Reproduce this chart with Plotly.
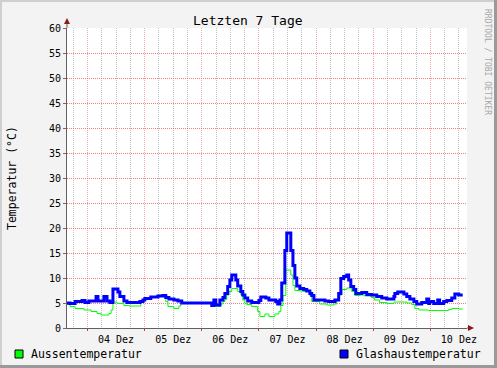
import pandas as pd
import plotly.graph_objects as go

# ---------------- data ----------------
# hours relative to 04 Dez 00:00, values in °C (step series)
glas_hours = [-8.6, -7.3, -5.2, -2.3, -1.0, 0.6, 3.6, 4.4, 6.9, 8.2, 9.4, 10.7, 12.8, 13.6,
              15.3, 16.6, 22.0, 23.3, 24.1, 26.6, 29.6, 31.7, 32.9, 34.2, 36.3, 38.0, 39.6,
              52.2, 53.1, 53.9, 55.6, 56.9, 57.7, 58.9, 59.8, 60.6, 62.3, 63.1, 64.4, 65.2,
              66.1, 67.3, 69.0, 72.0, 72.8, 74.9, 76.2, 79.1, 79.9, 80.8, 81.6, 82.9, 83.7,
              85.4, 86.3, 87.1, 87.9, 89.2, 90.8, 92.1, 93.4, 94.2, 95.1, 99.7, 101.3, 103.9,
              105.5, 106.4, 107.6, 108.9, 109.7, 110.6, 111.8, 112.7, 115.2, 117.3, 119.4,
              121.5, 123.6, 125.7, 128.7, 129.1, 130.3, 132.9, 134.1, 135.4, 137.1, 138.3,
              140.4, 142.5, 143.3, 143.7, 145.4, 147.1, 147.9, 149.6, 150.9, 153.0, 154.3,
              155.9, 157.6]
glas_values = [5.0, 4.9, 5.3, 5.5, 5.1, 5.4, 6.3, 5.4, 6.3, 5.4, 5.1, 7.8, 7.2, 6.3,
               5.4, 5.1, 5.3, 5.6, 5.9, 6.2, 6.4, 6.5, 6.1, 5.8, 5.6, 5.4, 5.0,
               4.5, 5.6, 4.6, 5.6, 6.1, 6.9, 8.3, 9.6, 10.6, 9.6, 8.4, 7.3, 6.6,
               6.0, 5.4, 5.1, 5.5, 6.2, 6.0, 5.6, 5.3, 4.8, 5.6, 9.0, 15.5, 19.0,
               15.5, 12.5, 10.0, 8.4, 7.9, 7.7, 7.4, 6.9, 6.5, 5.6, 5.4, 5.3, 5.6,
               6.9, 9.9, 10.3, 10.6, 9.6, 8.3, 7.7, 6.9, 7.1, 6.7, 6.6,
               6.3, 6.0, 5.8, 6.3, 6.9, 7.2, 6.8, 6.3, 5.8, 5.3, 4.8,
               5.1, 5.8, 4.9, 5.3, 4.9, 5.6, 4.9, 5.3, 5.5, 6.0, 6.8,
               6.6, 6.6]

aussen_hours = [-8.6, -7.3, -5.2, -1.5, 1.5, 4.0, 5.7, 9.0, 9.9, 10.7, 12.4, 15.3, 17.4,
                22.4, 23.7, 25.4, 27.1, 29.6, 31.7, 32.9, 33.8, 36.3, 38.4, 39.2, 52.2,
                56.0, 56.9, 57.7, 58.5, 59.4, 60.6, 63.1, 64.4, 65.2, 66.1, 66.9, 69.0,
                71.5, 72.4, 74.5, 76.2, 78.7, 80.4, 81.2, 82.1, 83.3, 85.4, 86.3, 87.1,
                89.2, 90.8, 93.4, 94.2, 97.5, 100.5, 103.4, 104.7, 105.5, 106.8, 108.9,
                111.0, 112.3, 114.4, 116.4, 119.4, 120.6, 122.7, 125.7, 128.7, 134.1,
                136.2, 137.5, 139.2, 143.3, 151.7, 153.0, 155.9, 157.6]
aussen_values = [4.7, 4.3, 3.9, 3.6, 3.3, 2.9, 2.6, 2.9, 3.6, 5.2, 4.9, 4.5, 4.4,
                 5.3, 5.7, 6.0, 6.3, 6.6, 6.5, 5.3, 4.3, 3.9, 4.4, 5.0, 4.3,
                 4.8, 5.3, 5.7, 6.6, 7.3, 7.9, 7.3, 6.6, 5.6, 4.9, 4.7, 4.3,
                 3.3, 2.3, 2.8, 2.3, 2.8, 3.3, 4.5, 6.5, 11.6, 10.6, 8.5, 7.5,
                 7.4, 7.3, 6.5, 5.3, 4.8, 4.6, 4.8, 5.6, 6.6, 7.7, 8.0,
                 7.3, 6.5, 6.6, 6.4, 6.1, 5.6, 5.1, 4.9, 5.2, 5.0,
                 4.7, 3.9, 3.6, 3.5, 3.7, 3.9, 3.8, 3.8]

y_ticks = list(range(0, 61, 5))

# ---------------- build ----------------
base = pd.Timestamp("2009-12-04 00:00")
t_glas = base + pd.to_timedelta(glas_hours, unit="h")
t_aus = base + pd.to_timedelta(aussen_hours, unit="h")
x_start = base + pd.Timedelta(hours=-8.6)
x_end = x_start + pd.Timedelta(days=7)

MONO = "DejaVu Sans Mono"
W, H = 497, 368
L, R, T, B = 67, 30, 28, 40
PW, PH = W - L - R, H - T - B


def px(x):
    return (x - L) / PW


def py(y):
    return (H - B - y) / PH


fig = go.Figure()
fig.add_trace(go.Scatter(x=t_aus, y=aussen_values, mode="lines", line_shape="hv",
                         line=dict(color="#00FF00", width=1), name="Aussentemperatur"))
fig.add_trace(go.Scatter(x=t_glas, y=glas_values, mode="lines", line_shape="hv",
                         line=dict(color="#0000FF", width=3), name="Glashaustemperatur"))

red_grid = "rgba(240,110,110,0.6)"
red_grid_h = "rgba(240,80,80,0.75)"
grey_grid = "rgba(185,185,185,0.9)"

fig.update_layout(
    width=W, height=H,
    margin=dict(l=L, r=R, t=T, b=B),
    paper_bgcolor="#F3F3F3", plot_bgcolor="#FFFFFF",
    showlegend=False,
    font=dict(family=MONO, size=10, color="#000000"),
    xaxis=dict(type="date", range=[x_start, x_end],
               dtick=86400000, tick0=base, ticklabelmode="period", tickformat="%d Dez",
               ticks="outside", ticklen=2, tickcolor="#C04040",
               showgrid=True, gridcolor=red_grid, griddash="1px,1px", gridwidth=1,
               zeroline=False,
               showline=True, linecolor="#606060", linewidth=1,
               tickfont=dict(family=MONO, size=10),
               minor=dict(dtick=6 * 3600 * 1000, tick0=base, showgrid=True,
                          gridcolor=grey_grid, griddash="1px,1px", gridwidth=1)),
    yaxis=dict(range=[0, 60], tickmode="array", tickvals=y_ticks,
               ticks="outside", ticklen=3, tickcolor="#B05050",
               showgrid=True, gridcolor=red_grid_h, griddash="1px,1px", gridwidth=1,
               zeroline=False, showline=True, linecolor="#606060", linewidth=1,
               tickfont=dict(family=MONO, size=10)),
)

shapes = []
# frame
shapes.append(dict(type="rect", xref="paper", yref="paper", x0=px(0), x1=px(W), y0=py(0), y1=py(2),
                   fillcolor="#CFCFCF", line=dict(width=0), layer="above"))
shapes.append(dict(type="rect", xref="paper", yref="paper", x0=px(0), x1=px(2), y0=py(0), y1=py(H),
                   fillcolor="#CFCFCF", line=dict(width=0), layer="above"))
shapes.append(dict(type="rect", xref="paper", yref="paper", x0=px(W - 3), x1=px(W), y0=py(0), y1=py(H),
                   fillcolor="#9A9A9A", line=dict(width=0), layer="above"))
shapes.append(dict(type="rect", xref="paper", yref="paper", x0=px(0), x1=px(W), y0=py(H - 3), y1=py(H),
                   fillcolor="#9A9A9A", line=dict(width=0), layer="above"))
# axis extensions and arrows
shapes.append(dict(type="line", xref="paper", yref="paper", x0=px(L), x1=px(L), y0=py(T), y1=py(22),
                   line=dict(color="#606060", width=1), layer="above"))
shapes.append(dict(type="line", xref="paper", yref="paper", x0=px(L + PW), x1=px(470), y0=py(T + PH), y1=py(T + PH),
                   line=dict(color="#606060", width=1), layer="above"))
shapes.append(dict(type="path", xref="paper", yref="paper",
                   path=f"M {px(64)},{py(24)} L {px(70)},{py(24)} L {px(67)},{py(18)} Z",
                   fillcolor="#8B1A1A", line=dict(width=0), layer="above"))
shapes.append(dict(type="path", xref="paper", yref="paper",
                   path=f"M {px(468)},{py(325)} L {px(468)},{py(331)} L {px(474)},{py(328)} Z",
                   fillcolor="#8B1A1A", line=dict(width=0), layer="above"))
# legend squares
shapes.append(dict(type="rect", xref="paper", yref="paper", x0=px(15), x1=px(23), y0=py(358), y1=py(350),
                   fillcolor="#00FF00", line=dict(color="#000000", width=1), layer="above"))
shapes.append(dict(type="rect", xref="paper", yref="paper", x0=px(340), x1=px(348), y0=py(358), y1=py(350),
                   fillcolor="#0000FF", line=dict(color="#000000", width=1), layer="above"))
fig.update_layout(shapes=shapes)

ann = [
    dict(text="Letzten 7 Tage", x=px(248), y=py(20), xref="paper", yref="paper",
         showarrow=False, xanchor="center", yanchor="middle", font=dict(family=MONO, size=13, color="#000")),
    dict(text="Temperatur (°C)", x=px(12), y=py(178), xref="paper", yref="paper", textangle=-90,
         showarrow=False, xanchor="center", yanchor="middle", font=dict(family=MONO, size=11.5, color="#000")),
    dict(text="RRDTOOL / TOBI OETIKER", x=px(487), y=py(62), xref="paper", yref="paper", textangle=90,
         showarrow=False, xanchor="center", yanchor="middle", font=dict(family=MONO, size=8, color="#A8A8A8")),
    dict(text="Aussentemperatur", x=px(29), y=py(354), xref="paper", yref="paper",
         showarrow=False, xanchor="left", yanchor="middle", font=dict(family=MONO, size=11.5, color="#000")),
    dict(text="Glashaustemperatur", x=px(354), y=py(354), xref="paper", yref="paper",
         showarrow=False, xanchor="left", yanchor="middle", font=dict(family=MONO, size=11.5, color="#000")),
]
fig.update_layout(annotations=ann)

fig.write_html("out.html")
